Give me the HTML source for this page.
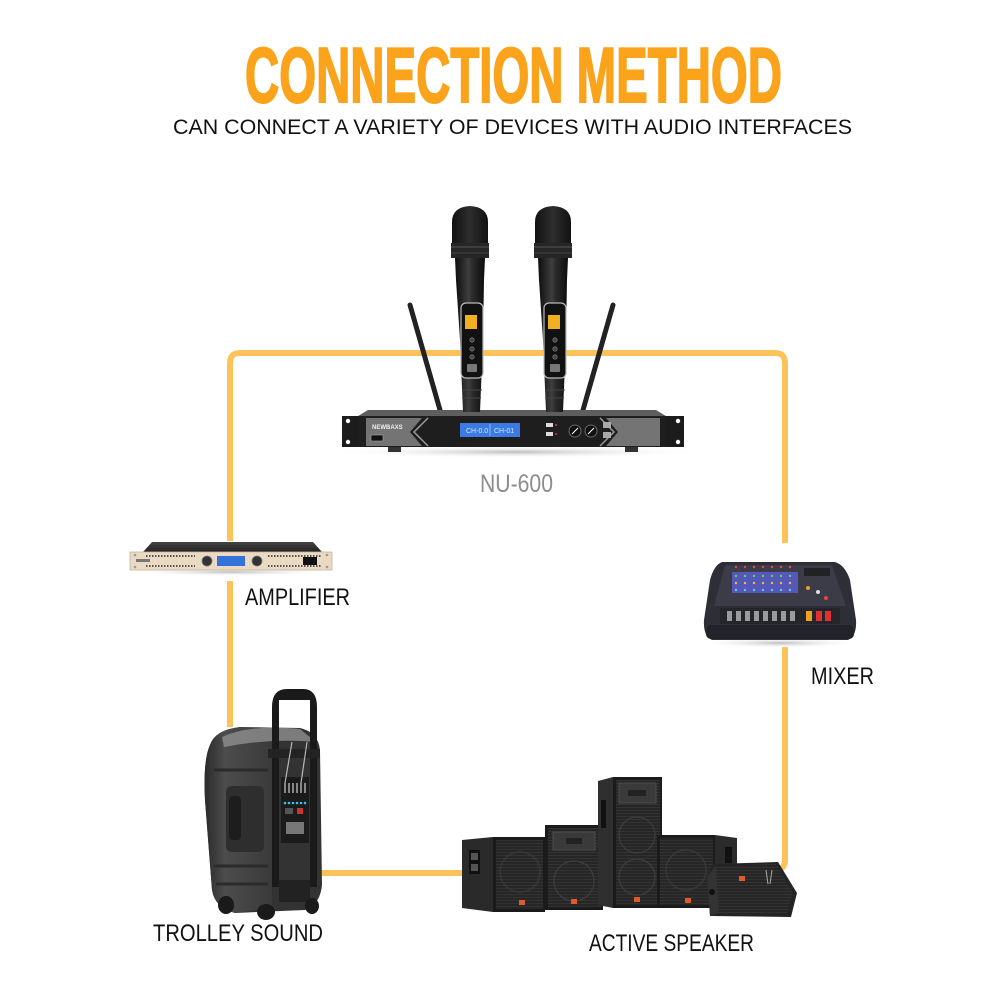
<!DOCTYPE html>
<html><head><meta charset="utf-8"><style>
html,body{margin:0;padding:0;background:#fff;}
svg{display:block;}
text{font-family:"Liberation Sans",Arial,sans-serif;}
</style></head><body>
<svg width="1000" height="1000" viewBox="0 0 1000 1000" xmlns="http://www.w3.org/2000/svg">
<defs>
  <linearGradient id="micg" x1="0" x2="1" y1="0" y2="0">
    <stop offset="0" stop-color="#0c0c0c"/><stop offset="0.45" stop-color="#3e3e3e"/><stop offset="0.6" stop-color="#2a2a2a"/><stop offset="1" stop-color="#0c0c0c"/>
  </linearGradient>
  <linearGradient id="headg" x1="0" x2="1" y1="0" y2="0">
    <stop offset="0" stop-color="#111"/><stop offset="0.5" stop-color="#2e2e2e"/><stop offset="1" stop-color="#111"/>
  </linearGradient>
  <linearGradient id="trolg" x1="0" x2="1" y1="0" y2="0">
    <stop offset="0" stop-color="#2a2a2a"/><stop offset="0.3" stop-color="#4c4c4c"/><stop offset="1" stop-color="#3a3a3a"/>
  </linearGradient>
  <linearGradient id="ampTop" x1="0" x2="0" y1="0" y2="1">
    <stop offset="0" stop-color="#444"/><stop offset="1" stop-color="#222"/>
  </linearGradient>
  <pattern id="grille" width="3" height="3" patternUnits="userSpaceOnUse">
    <rect width="3" height="3" fill="#262626"/><rect width="3" height="1" fill="#333"/>
  </pattern>
  <radialGradient id="shad" cx="0.5" cy="0.5" r="0.5">
    <stop offset="0" stop-color="#bdbdbd"/><stop offset="1" stop-color="#fff" stop-opacity="0"/>
  </radialGradient>
</defs>

<!-- Title -->
<text x="245" y="102" font-size="78" font-weight="bold" fill="#FAA31B" stroke="#FAA31B" stroke-width="2" textLength="537" lengthAdjust="spacingAndGlyphs">CONNECTION METHOD</text>
<text x="173" y="134" font-size="21" fill="#111" textLength="679" lengthAdjust="spacingAndGlyphs">CAN CONNECT A VARIETY OF DEVICES WITH AUDIO INTERFACES</text>

<!-- Connector lines -->
<path d="M230 727 L230 363 Q230 353 240 353 L775 353 Q785 353 785 363 L785 860 Q785 870 775 870 L760 870" fill="none" stroke="#FDC25A" stroke-width="6"/>
<path d="M318 873 L464 873" fill="none" stroke="#FDC25A" stroke-width="6"/>
<rect x="222" y="541" width="16" height="40" fill="#fff"/>
<rect x="777" y="543" width="16" height="104" fill="#fff"/>

<!-- ===== Receiver + mics ===== -->
<ellipse cx="516" cy="452" rx="190" ry="6" fill="url(#shad)"/>
<line x1="410" y1="305" x2="440" y2="410" stroke="#222" stroke-width="5" stroke-linecap="round"/>
<line x1="613" y1="305" x2="583" y2="410" stroke="#222" stroke-width="5" stroke-linecap="round"/>
<rect x="342" y="416" width="26" height="31" fill="#1c1c1c"/>
<circle cx="348" cy="421" r="2.2" fill="#fff"/><circle cx="348" cy="442" r="2.2" fill="#fff"/>
<rect x="656" y="416" width="28" height="31" fill="#1c1c1c"/>
<circle cx="678" cy="421" r="2.2" fill="#fff"/><circle cx="678" cy="442" r="2.2" fill="#fff"/>
<polygon points="368,410 656,410 666,416 358,416" fill="#5e5e5e"/>
<rect x="358" y="416" width="308" height="31" fill="#1e1e1e"/>
<polygon points="366,418 422,418 410,432 422,446 366,446" fill="#747474"/>
<polyline points="428,418 414,432 428,446" fill="none" stroke="#9a9a9a" stroke-width="1.5"/>
<polygon points="660,418 606,418 618,432 606,446 660,446" fill="#747474"/>
<polyline points="600,418 614,432 600,446" fill="none" stroke="#9a9a9a" stroke-width="1.5"/>
<text x="372" y="429" font-size="6" font-weight="bold" fill="#eee">NEWBAXS</text>
<rect x="371" y="435" width="12" height="6" fill="#111" stroke="#aaa" stroke-width="0.6"/>
<rect x="460" y="423" width="60" height="14" fill="#3b7be3"/>
<text x="466" y="433" font-size="7" fill="#d8e8ff">CH-0.0</text>
<text x="494" y="433" font-size="7" fill="#d8e8ff">CH-01</text>
<line x1="490" y1="424" x2="490" y2="436" stroke="#cfe0ff" stroke-width="0.6"/>
<rect x="546" y="423" width="7" height="4" fill="#ddd"/><rect x="546" y="432" width="7" height="4" fill="#ddd"/>
<circle cx="556" cy="425" r="1" fill="#e33"/><circle cx="556" cy="434" r="1" fill="#e33"/>
<circle cx="575" cy="431" r="6" fill="#111" stroke="#666" stroke-width="1"/>
<line x1="572" y1="434" x2="578" y2="428" stroke="#fff" stroke-width="1"/>
<circle cx="591" cy="431" r="6" fill="#111" stroke="#666" stroke-width="1"/>
<line x1="588" y1="434" x2="594" y2="428" stroke="#fff" stroke-width="1"/>
<rect x="603" y="422" width="8" height="6" fill="#aaa"/><rect x="603" y="432" width="8" height="6" fill="#aaa"/>
<rect x="388" y="447" width="13" height="5" fill="#333"/><rect x="625" y="447" width="13" height="5" fill="#333"/>

<g id="mic">
  <path d="M452 245 L452 222 Q452 207 470 206 Q488 207 488 222 L488 245 Z" fill="url(#headg)"/>
  <rect x="451" y="243" width="38" height="15" fill="#262626"/>
  <line x1="451" y1="247" x2="489" y2="247" stroke="#555" stroke-width="1"/>
  <line x1="451" y1="253" x2="489" y2="253" stroke="#444" stroke-width="1"/>
  <path d="M455 258 L485 258 L484 280 L483 340 L480 412 L463 412 L460 340 L456 280 Z" fill="url(#micg)"/>
  <rect x="461" y="303" width="22" height="75" rx="5" fill="#111" stroke="#bbb" stroke-width="1.2"/>
  <rect x="465" y="315" width="12" height="14" fill="#f0b020"/>
  <circle cx="472" cy="340" r="2.2" fill="#444" stroke="#888" stroke-width="0.6"/>
  <circle cx="472" cy="349" r="2.2" fill="#444" stroke="#888" stroke-width="0.6"/>
  <circle cx="472" cy="357" r="2.2" fill="#444" stroke="#888" stroke-width="0.6"/>
  <rect x="467" y="364" width="10" height="8" rx="1" fill="#777"/>
  <line x1="462" y1="390" x2="482" y2="390" stroke="#444" stroke-width="1"/>
  <line x1="462" y1="398" x2="481" y2="398" stroke="#444" stroke-width="1"/>
</g>
<use href="#mic" transform="translate(83,0)"/>

<text x="480" y="492" font-size="25" fill="#8c8c8c" textLength="73" lengthAdjust="spacingAndGlyphs">NU-600</text>

<!-- ===== Amplifier ===== -->
<ellipse cx="231" cy="572" rx="105" ry="4" fill="url(#shad)"/>
<polygon points="152,542 313,542 322,552 143,552" fill="url(#ampTop)"/>
<rect x="130" y="552" width="202" height="18" fill="#ead9c3" stroke="#c8b59c" stroke-width="0.8"/>
<circle cx="135" cy="555" r="1.3" fill="#999"/><circle cx="135" cy="567" r="1.3" fill="#999"/>
<circle cx="327" cy="555" r="1.3" fill="#999"/><circle cx="327" cy="567" r="1.3" fill="#999"/>
<g stroke="#555" stroke-width="2" stroke-dasharray="1.5 1.5">
  <line x1="146" y1="556" x2="195" y2="556"/><line x1="146" y1="566" x2="195" y2="566"/>
  <line x1="268" y1="556" x2="322" y2="556"/><line x1="268" y1="566" x2="322" y2="566"/>
</g>
<rect x="217" y="556" width="28" height="10" fill="#3572d8"/>
<circle cx="207" cy="561" r="5" fill="#333" stroke="#777" stroke-width="0.8"/>
<circle cx="257" cy="561" r="5" fill="#333" stroke="#777" stroke-width="0.8"/>
<rect x="303" y="557" width="14" height="8" fill="#111"/>
<rect x="136" y="559" width="14" height="3" fill="#777"/>
<text x="245" y="605" font-size="24" fill="#111" textLength="105" lengthAdjust="spacingAndGlyphs">AMPLIFIER</text>

<!-- ===== Mixer ===== -->
<ellipse cx="780" cy="643" rx="80" ry="5" fill="url(#shad)"/>
<path d="M722 562 L835 562 Q845 565 850 580 L856 620 Q857 636 848 640 L712 640 Q703 636 704 620 L710 580 Q714 565 722 562 Z" fill="#2d2e36"/>
<polygon points="725,565 832,565 846,606 714,606" fill="#3b3c47"/>
<rect x="732" y="572" width="66" height="21" fill="#5658b8"/>
<g fill="#5fd35f">
  <circle cx="736" cy="576" r="1.2"/><circle cx="745" cy="576" r="1.2"/><circle cx="754" cy="576" r="1.2"/><circle cx="763" cy="576" r="1.2"/><circle cx="772" cy="576" r="1.2"/><circle cx="781" cy="576" r="1.2"/><circle cx="790" cy="576" r="1.2"/>
</g>
<g fill="#e8c040">
  <circle cx="736" cy="583" r="1.2"/><circle cx="745" cy="583" r="1.2"/><circle cx="754" cy="583" r="1.2"/><circle cx="763" cy="583" r="1.2"/><circle cx="772" cy="583" r="1.2"/><circle cx="781" cy="583" r="1.2"/><circle cx="790" cy="583" r="1.2"/>
</g>
<g fill="#5fc0ff">
  <circle cx="736" cy="590" r="1.2"/><circle cx="745" cy="590" r="1.2"/><circle cx="754" cy="590" r="1.2"/><circle cx="763" cy="590" r="1.2"/><circle cx="772" cy="590" r="1.2"/><circle cx="781" cy="590" r="1.2"/><circle cx="790" cy="590" r="1.2"/>
</g>
<g fill="#e44">
  <circle cx="736" cy="567" r="1.2"/><circle cx="745" cy="567" r="1.2"/><circle cx="754" cy="567" r="1.2"/><circle cx="763" cy="567" r="1.2"/><circle cx="772" cy="567" r="1.2"/><circle cx="781" cy="567" r="1.2"/><circle cx="790" cy="567" r="1.2"/>
</g>
<rect x="804" y="568" width="26" height="8" fill="#222"/>
<circle cx="808" cy="588" r="2" fill="#e89a30"/><circle cx="818" cy="592" r="2" fill="#ddd"/><circle cx="826" cy="598" r="2" fill="#e44"/>
<rect x="720" y="608" width="120" height="16" fill="#25262c"/>
<g fill="#9a9a9a">
  <rect x="727" y="611" width="5" height="10"/><rect x="736" y="611" width="5" height="10"/><rect x="745" y="611" width="5" height="10"/><rect x="754" y="611" width="5" height="10"/><rect x="763" y="611" width="5" height="10"/><rect x="772" y="611" width="5" height="10"/><rect x="781" y="611" width="5" height="10"/><rect x="790" y="611" width="5" height="10"/>
</g>
<rect x="806" y="611" width="6" height="10" fill="#f0a020"/>
<rect x="816" y="611" width="6" height="10" fill="#e03030"/>
<rect x="825" y="611" width="6" height="10" fill="#e03030"/>
<rect x="706" y="625" width="148" height="14" rx="5" fill="#222328"/>
<text x="811" y="684" font-size="24" fill="#111" textLength="63" lengthAdjust="spacingAndGlyphs">MIXER</text>

<!-- ===== Trolley speaker ===== -->
<path d="M210 745 Q215 730 240 727 L300 728 Q318 732 320 750 L322 885 Q320 905 305 910 L235 913 Q215 908 212 890 L205 800 Q203 760 210 745 Z" fill="#333"/>
<path d="M210 745 Q215 730 240 727 L272 729 L272 908 L235 913 Q215 908 212 890 L205 800 Q203 760 210 745 Z" fill="url(#trolg)"/>
<path d="M222 737 Q250 724 300 729 L316 742 Q270 738 224 747 Z" fill="#8e8e8e" opacity="0.8"/>
<rect x="226" y="786" width="38" height="66" rx="6" fill="#2e2e2e"/>
<rect x="229" y="796" width="12" height="44" rx="4" fill="#1d1d1d"/>
<line x1="214" y1="770" x2="268" y2="770" stroke="#2b2b2b" stroke-width="3"/>
<line x1="214" y1="866" x2="268" y2="866" stroke="#2b2b2b" stroke-width="3"/>
<line x1="216" y1="884" x2="268" y2="884" stroke="#2b2b2b" stroke-width="3"/>
<rect x="281" y="777" width="28" height="66" fill="#1b1b1b"/>
<g fill="#888"><rect x="284" y="783" width="2" height="10"/><rect x="288" y="783" width="2" height="10"/><rect x="292" y="783" width="2" height="10"/><rect x="296" y="783" width="2" height="10"/><rect x="300" y="783" width="2" height="10"/><rect x="304" y="783" width="2" height="10"/></g>
<g fill="#3cc0e8"><circle cx="285" cy="803" r="1.3"/><circle cx="289" cy="803" r="1.3"/><circle cx="293" cy="803" r="1.3"/><circle cx="297" cy="803" r="1.3"/><circle cx="301" cy="803" r="1.3"/><circle cx="305" cy="803" r="1.3"/></g>
<rect x="285" y="808" width="8" height="6" fill="#555"/><rect x="297" y="808" width="6" height="6" fill="#c33"/>
<rect x="286" y="822" width="18" height="12" fill="#777"/>
<path d="M272 707 Q272 689 287 689 L303 689 Q317 689 317 707 L317 887 L310 887 L310 700 L279 700 L279 887 L272 887 Z" fill="#1a1a1a"/>
<rect x="268" y="749" width="52" height="9" fill="#232323"/>
<line x1="292" y1="742" x2="285" y2="783" stroke="#b5b5b5" stroke-width="1.2"/>
<line x1="307" y1="742" x2="301" y2="783" stroke="#b5b5b5" stroke-width="1.2"/>
<rect x="279" y="880" width="31" height="22" fill="#222"/>
<ellipse cx="226" cy="905" rx="8" ry="9" fill="#1a1a1a"/>
<ellipse cx="266" cy="912" rx="9" ry="8" fill="#1a1a1a"/>
<ellipse cx="312" cy="906" rx="7" ry="8" fill="#1a1a1a"/>
<text x="153" y="941" font-size="24" fill="#111" textLength="170" lengthAdjust="spacingAndGlyphs">TROLLEY SOUND</text>

<!-- ===== Speakers ===== -->
<polygon points="462,840 493,837 493,912 462,908" fill="#2a2a2a"/>
<rect x="469" y="850" width="11" height="24" fill="#111"/>
<rect x="471" y="853" width="7" height="7" fill="#555"/><rect x="471" y="864" width="7" height="7" fill="#555"/>
<rect x="493" y="837" width="52" height="75" fill="#1a1a1a"/>
<rect x="496" y="840" width="47" height="69" fill="url(#grille)"/>
<circle cx="520" cy="872" r="20" fill="none" stroke="#3a3a3a" stroke-width="1.2"/>
<rect x="519" y="900" width="6" height="5" fill="#e05a2c"/>
<rect x="545" y="825" width="58" height="85" fill="#1b1b1b"/>
<rect x="548" y="828" width="53" height="79" fill="url(#grille)"/>
<rect x="553" y="832" width="42" height="18" fill="#3a3a3a" stroke="#555" stroke-width="0.8"/>
<rect x="566" y="838" width="16" height="6" fill="#222"/>
<circle cx="574" cy="881" r="20" fill="none" stroke="#3e3e3e" stroke-width="1.2"/>
<rect x="571" y="899" width="6" height="5" fill="#e05a2c"/>
<polygon points="598,781 613,777 613,908 598,905" fill="#2f2f2f"/>
<rect x="601" y="800" width="5" height="28" fill="#111"/>
<rect x="613" y="777" width="49" height="131" fill="#1b1b1b"/>
<rect x="616" y="780" width="44" height="125" fill="url(#grille)"/>
<rect x="619" y="783" width="37" height="20" fill="#3a3a3a" stroke="#555" stroke-width="0.8"/>
<rect x="628" y="790" width="18" height="6" fill="#222"/>
<circle cx="637" cy="835" r="18" fill="none" stroke="#3e3e3e" stroke-width="1.2"/>
<circle cx="637" cy="877" r="18" fill="none" stroke="#3e3e3e" stroke-width="1.2"/>
<rect x="634" y="897" width="6" height="5" fill="#e05a2c"/>
<polygon points="715,835 737,838 737,900 715,906" fill="#2b2b2b"/>
<rect x="725" y="847" width="7" height="16" fill="#111"/>
<rect x="657" y="835" width="58" height="73" fill="#1b1b1b"/>
<rect x="660" y="838" width="53" height="67" fill="url(#grille)"/>
<circle cx="686" cy="870" r="20" fill="none" stroke="#3a3a3a" stroke-width="1.2"/>
<rect x="685" y="898" width="6" height="5" fill="#e05a2c"/>
<polygon points="713,864 778,862 797,893 791,917 710,916 707,876" fill="#242424"/>
<polygon points="716,866 776,864 793,893 787,913 719,913" fill="url(#grille)"/>
<polygon points="707,876 716,866 719,913 710,916" fill="#333"/>
<circle cx="712" cy="892" r="3" fill="#111"/>
<rect x="739" y="876" width="6" height="5" fill="#e05a2c"/>
<line x1="766" y1="870" x2="768" y2="884" stroke="#aaa" stroke-width="1"/>
<line x1="772" y1="870" x2="770" y2="884" stroke="#aaa" stroke-width="1"/>

<text x="589" y="951" font-size="24" fill="#111" textLength="165" lengthAdjust="spacingAndGlyphs">ACTIVE SPEAKER</text>
</svg>
</body></html>
